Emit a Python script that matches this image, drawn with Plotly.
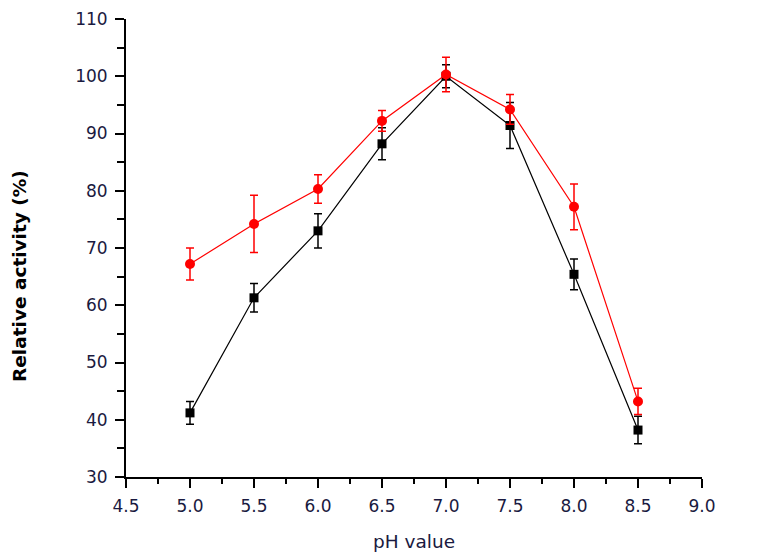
import plotly.graph_objects as go

ph = [5.0, 5.5, 6.0, 6.5, 7.0, 7.5, 8.0, 8.5]
black_vals = [41.2, 61.3, 73.0, 88.2, 100.0, 91.4, 65.4, 38.2]
black_err = [2.0, 2.5, 3.0, 2.8, 2.0, 4.0, 2.7, 2.4]
red_vals = [67.2, 74.2, 80.3, 92.2, 100.3, 94.2, 77.2, 43.2]
red_err = [2.8, 5.0, 2.5, 1.8, 3.0, 2.6, 4.0, 2.3]

x_ticks = [4.5, 5.0, 5.5, 6.0, 6.5, 7.0, 7.5, 8.0, 8.5, 9.0]
x_tick_text = ["4.5", "5.0", "5.5", "6.0", "6.5", "7.0", "7.5", "8.0", "8.5", "9.0"]
y_ticks = [30, 40, 50, 60, 70, 80, 90, 100, 110]

fig = go.Figure()
fig.add_trace(go.Scatter(
    x=ph, y=black_vals, mode="lines+markers",
    line=dict(color="black", width=1.2),
    marker=dict(symbol="square", size=9, color="black"),
    error_y=dict(type="data", array=black_err, visible=True, color="black", thickness=1.5, width=4),
    showlegend=False,
))
fig.add_trace(go.Scatter(
    x=ph, y=red_vals, mode="lines+markers",
    line=dict(color="#ff0000", width=1.2),
    marker=dict(symbol="circle", size=10, color="#ff0000"),
    error_y=dict(type="data", array=red_err, visible=True, color="#ff0000", thickness=1.5, width=4),
    showlegend=False,
))

tick_font = dict(family="DejaVu Sans", size=17, color="#1a1a40")
fig.update_layout(
    width=766, height=551,
    margin=dict(l=118, r=72, t=11, b=82, autoexpand=False),
    paper_bgcolor="white", plot_bgcolor="white",
    xaxis=dict(
        range=[4.5, 9.0], tickvals=x_ticks, ticktext=x_tick_text,
        showline=True, linecolor="black", linewidth=2, mirror=False,
        ticks="outside", ticklen=9, tickwidth=2, tickcolor="black",
        minor=dict(dtick=0.25, ticks="outside", ticklen=5, tickwidth=2, tickcolor="black", showgrid=False),
        showgrid=False, zeroline=False, tickfont=tick_font, automargin=False,
        ticklabelstandoff=4, ticklabeloverflow="allow",
        title=dict(text="pH value", font=dict(family="DejaVu Sans", size=18.5, color="#1a1a40"), standoff=20),
    ),
    yaxis=dict(
        range=[30, 110], tickvals=y_ticks,
        showline=True, linecolor="black", linewidth=2, mirror=False,
        ticks="outside", ticklen=9, tickwidth=2, tickcolor="black",
        minor=dict(dtick=5, ticks="outside", ticklen=7, tickwidth=2, tickcolor="black", showgrid=False),
        showgrid=False, zeroline=False, tickfont=tick_font, automargin=False,
        ticklabelstandoff=4, ticklabeloverflow="allow",
    ),
    annotations=[dict(
        text="<b>Relative activity (%)</b>", textangle=-90,
        xref="paper", yref="paper", x=-0.185, y=0.44,
        xanchor="center", yanchor="middle", showarrow=False,
        font=dict(family="DejaVu Sans", size=18.5, color="black"),
    )],
)
fig.write_html("out.html")
